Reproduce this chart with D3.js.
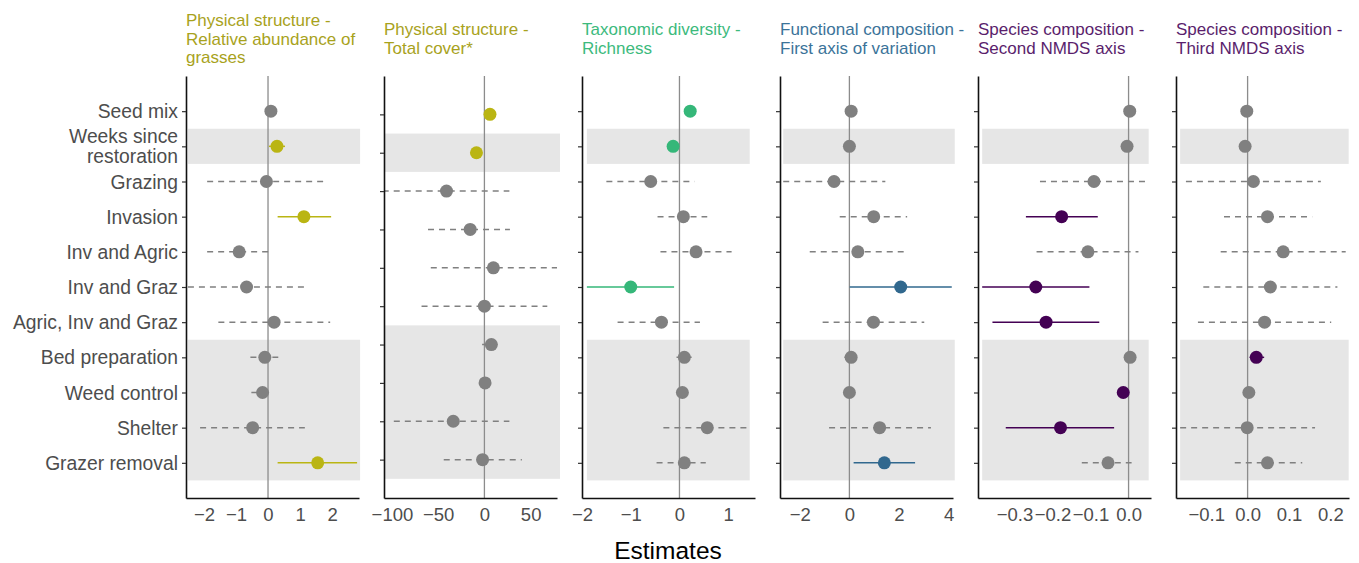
<!DOCTYPE html>
<html lang="en">
<head>
<meta charset="utf-8">
<title>Estimates by response</title>
<script src="https://d3js.org/d3.v7.min.js"></script>
<style>
  body { margin: 0; background: #fff; }
  svg { display: block; font-family: "Liberation Sans", Arial, sans-serif; }
</style>
</head>
<body>
<div id="chart"></div>
<script>
// terms, top to bottom
var terms = ["Seed mix", "Weeks since\nrestoration", "Grazing", "Invasion", "Inv and Agric",
  "Inv and Graz", "Agric, Inv and Graz", "Bed preparation", "Weed control", "Shelter", "Grazer removal"];
var shadedTerms = ["Weeks since\nrestoration", "Bed preparation", "Weed control", "Shelter", "Grazer removal"];

var titles = [
  ["Physical structure -", "Relative abundance of", "grasses"],
  ["Physical structure -", "Total cover*"],
  ["Taxonomic diversity -", "Richness"],
  ["Functional composition -", "First axis of variation"],
  ["Species composition -", "Second NMDS axis"],
  ["Species composition -", "Third NMDS axis"]
];

// estimates and confidence limits per response (null = term not in model)
var grassEst  = [0.09, 0.28, -0.05, 1.12, -0.9, -0.67, 0.19, -0.1, -0.17, -0.48, 1.55];
var grassLow  = [-0.08, 0.03, -1.9, 0.3, -1.9, -2.5, -1.55, -0.55, -0.52, -2.12, 0.3];
var grassHigh = [0.26, 0.53, 1.72, 1.97, 0.15, 1.13, 1.94, 0.32, 0.02, 1.15, 2.78];

var coverEst  = [6, -8.6, -41, -15.4, 9.7, 0, null, 7.5, 0.7, -33.7, -2];
var coverLow  = [2, -13, -110, -61, -58, -68, null, -2.5, -4, -98, -44];
var coverHigh = [10, -4, 27, 27.6, 85, 68, null, 14, 5.5, 27, 40.5];

var richEst  = [0.22, -0.13, -0.59, 0.08, 0.34, -1.0, -0.37, 0.1, 0.06, 0.57, 0.1];
var richLow  = [0.12, -0.22, -1.5, -0.45, -0.39, -1.9, -1.27, -0.06, -0.04, -0.33, -0.47];
var richHigh = [0.32, -0.04, 0.31, 0.57, 1.07, -0.11, 0.42, 0.25, 0.16, 1.38, 0.54];

var funcEst  = [0.07, 0, -0.62, 0.98, 0.34, 2.07, 0.97, 0.07, 0, 1.22, 1.41];
var funcLow  = [-0.15, -0.2, -2.67, -0.39, -1.6, 0.01, -1.08, -0.2, -0.2, -0.82, 0.17];
var funcHigh = [0.29, 0.2, 1.45, 2.33, 2.19, 4.13, 3.02, 0.3, 0.2, 3.29, 2.65];

var nmds2Est  = [0.003, -0.004, -0.091, -0.176, -0.107, -0.244, -0.217, 0.004, -0.014, -0.179, -0.054];
var nmds2Low  = [-0.012, -0.018, -0.233, -0.27, -0.242, -0.385, -0.358, -0.01, -0.028, -0.323, -0.123];
var nmds2High = [0.018, 0.01, 0.045, -0.081, 0.026, -0.103, -0.077, 0.018, -0.002, -0.038, 0.008];

var nmds3Est  = [-0.002, -0.006, 0.014, 0.048, 0.086, 0.055, 0.041, 0.021, 0.003, -0.001, 0.048];
var nmds3Low  = [-0.015, -0.02, -0.149, -0.057, -0.065, -0.107, -0.12, 0.005, -0.01, -0.163, -0.031];
var nmds3High = [0.011, 0.008, 0.177, 0.156, 0.237, 0.217, 0.202, 0.04, 0.016, 0.163, 0.132];

var domains = [[-2.56, 2.84], [-108.6, 78.5], [-2.0, 1.55], [-2.8, 4.18], [-0.396, 0.059], [-0.173, 0.245]];
var tickValues = [[-2, -1, 0, 1, 2], [-100, -50, 0, 50], [-2, -1, 0, 1], [-2, 0, 2, 4],
  [-0.3, -0.2, -0.1, 0.0], [-0.1, 0.0, 0.1, 0.2]];
var tickFormats = ["d", "d", "d", "d", ".1f", ".1f"];

var pointColors = ["#bab513", "#bab513", "#35b779", "#31688e", "#440154", "#440154"];
var titleColors = ["#a8a21c", "#a8a21c", "#3cba7d", "#3b7399", "#5a1e6c", "#5a1e6c"];

var panels = [
  [grassEst, grassLow, grassHigh], [coverEst, coverLow, coverHigh], [richEst, richLow, richHigh],
  [funcEst, funcLow, funcHigh], [nmds2Est, nmds2Low, nmds2High], [nmds3Est, nmds3Low, nmds3High]
];

var width = 1359, height = 563;
var plotTop = 76, plotBottom = 498;
var firstLeft = 186, panelStep = 198, panelWidth = 173;
var grey = "#808080";

var svg = d3.select("#chart").append("svg")
  .attr("width", width)
  .attr("height", height);

var minus = function(s) { return s.replace("-", "\u2212"); };

panels.forEach(function(p, k) {
  var left = firstLeft + k * panelStep;
  var rows = terms.map(function(t, i) {
    return {term: t, est: p[0][i], low: p[1][i], high: p[2][i]};
  }).filter(function(d) { return d.est !== null; });
  rows.forEach(function(d) { d.sig = d.low > 0 || d.high < 0; });

  var x = d3.scaleLinear().domain(domains[k]).range([left, left + panelWidth]);
  var y = d3.scalePoint().domain(rows.map(function(d) { return d.term; }))
    .range([plotTop, plotBottom]).padding(1);
  var step = y.step();

  var g = svg.append("g");

  var clipId = "clip" + k;
  g.append("clipPath").attr("id", clipId).append("rect")
    .attr("x", left).attr("y", plotTop).attr("width", panelWidth).attr("height", plotBottom - plotTop);

  // shaded bands, from lowest to highest interval in the panel
  var bandLo = Math.max(domains[k][0], d3.min(rows, function(d) { return d.low; }));
  var bandHi = Math.min(domains[k][1], d3.max(rows, function(d) { return d.high; }));
  var groups = [];
  rows.forEach(function(d, idx) {
    if (shadedTerms.indexOf(d.term) < 0) return;
    var last = groups[groups.length - 1];
    if (last && last.end === idx - 1) { last.end = idx; last.lastTerm = d.term; }
    else groups.push({start: idx, end: idx, firstTerm: d.term, lastTerm: d.term});
  });
  g.selectAll(".band").data(groups).enter().append("rect")
    .attr("x", x(bandLo))
    .attr("width", x(bandHi) - x(bandLo) + 3)
    .attr("y", function(d) { return y(d.firstTerm) - step / 2; })
    .attr("height", function(d) { return y(d.lastTerm) - y(d.firstTerm) + step; })
    .attr("fill", "#e6e6e6");

  // zero line
  g.append("line")
    .attr("x1", x(0)).attr("x2", x(0))
    .attr("y1", plotTop).attr("y2", plotBottom)
    .attr("stroke", "#8c8c8c").attr("stroke-width", 1.3);

  var marks = g.append("g").attr("clip-path", "url(#" + clipId + ")");

  marks.selectAll(".ci").data(rows).enter().append("line")
    .attr("x1", function(d) { return x(d.low); })
    .attr("x2", function(d) { return x(d.high); })
    .attr("y1", function(d) { return y(d.term); })
    .attr("y2", function(d) { return y(d.term); })
    .attr("stroke", function(d) { return d.sig ? pointColors[k] : grey; })
    .attr("stroke-width", 1.5)
    .attr("stroke-dasharray", function(d) { return d.sig ? null : "6,5"; });

  marks.selectAll(".pt").data(rows).enter().append("circle")
    .attr("cx", function(d) { return x(d.est); })
    .attr("cy", function(d) { return y(d.term); })
    .attr("r", 6.5)
    .attr("fill", function(d) { return d.sig ? pointColors[k] : grey; });

  // axes
  var fmt = d3.format(tickFormats[k]);
  var xAxis = g.append("g")
    .attr("transform", "translate(0," + plotBottom + ")")
    .call(d3.axisBottom(x).tickValues(tickValues[k]).tickSize(0).tickPadding(10)
      .tickFormat(function(v) { return minus(fmt(v)); }));
  xAxis.select(".domain").attr("stroke", "#111").attr("stroke-width", 1.6);
  xAxis.selectAll("text").attr("font-size", 18.5).attr("fill", "#4d4d4d")
    .attr("font-family", "'Liberation Sans', Arial, sans-serif");

  var yAxis = g.append("g")
    .attr("transform", "translate(" + left + ",0)")
    .call(d3.axisLeft(y).tickSize(4).tickSizeOuter(0).tickPadding(4).tickFormat(""));
  yAxis.select(".domain").attr("stroke", "#111").attr("stroke-width", 1.6);
  yAxis.selectAll(".tick line").attr("stroke", "#333").attr("stroke-width", 1.2);

  if (k === 0) {
    yAxis.selectAll(".tick text")
      .attr("font-size", 19.3).attr("fill", "#4d4d4d").attr("x", -8).attr("dy", null)
      .attr("font-family", "'Liberation Sans', Arial, sans-serif")
      .each(function(t) {
        var lines = t.split("\n");
        var el = d3.select(this);
        lines.forEach(function(s, j) {
          el.append("tspan").attr("x", -8)
            .attr("dy", j === 0 ? ((-(lines.length - 1) * 0.52) + 0.34) + "em" : "1.04em")
            .text(s);
        });
      });
  }

  // title, centred vertically above the panel
  var lines = titles[k];
  var lineH = 18.5, mid = 38.5;
  g.append("text")
    .attr("font-size", 17)
    .attr("fill", titleColors[k])
    .selectAll("tspan").data(lines).enter().append("tspan")
    .attr("x", left)
    .attr("y", function(d, j) { return mid + (j - (lines.length - 1) / 2) * lineH + 6; })
    .text(function(d) { return d; });
});

svg.append("text")
  .attr("x", 668).attr("y", 559)
  .attr("text-anchor", "middle")
  .attr("font-size", 24.5)
  .attr("fill", "#000")
  .text("Estimates");
</script>
</body>
</html>
